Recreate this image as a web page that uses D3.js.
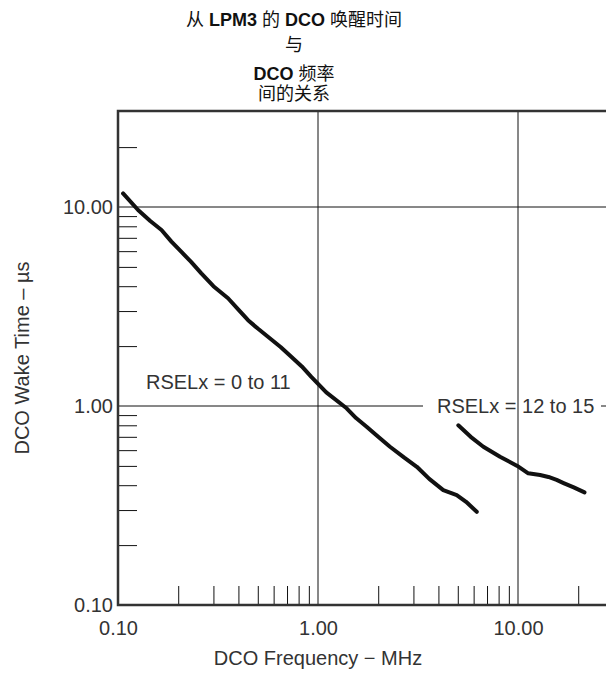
<!DOCTYPE html>
<html>
<head>
<meta charset="utf-8">
<script src="https://cdn.jsdelivr.net/npm/d3@7"></script>
<style>
  body { margin: 0; background: #fff; }
  svg { display: block; font-family: "Liberation Sans", Arial, "Noto Sans CJK SC", sans-serif; }
  .title { font-size: 18px; fill: #111; }
  .lbl { font-size: 20px; fill: #333; }
</style>
</head>
<body>
<div id="chart"></div>
<script>
// DCO wake time vs DCO frequency (log-log)

// RSELx = 0 to 11
var freqLow = [0.106, 0.126, 0.145, 0.165, 0.185, 0.207, 0.232, 0.261, 0.30, 0.355, 0.40, 0.447, 0.50, 0.562, 0.65, 0.735, 0.83, 0.926, 1.10, 1.39, 1.55, 1.75, 2.0, 2.29, 2.7, 3.12, 3.6, 4.23, 4.94, 5.5, 6.22];
var wakeLow = [11.7, 9.66, 8.5, 7.66, 6.7, 5.96, 5.3, 4.64, 4.0, 3.48, 3.05, 2.70, 2.45, 2.23, 1.98, 1.77, 1.58, 1.40, 1.17, 0.974, 0.87, 0.787, 0.70, 0.624, 0.55, 0.495, 0.43, 0.378, 0.357, 0.33, 0.294];

// RSELx = 12 to 15
var freqHigh = [5.03, 5.8, 6.71, 8.13, 9.92, 11.25, 12.9, 14.2, 15.6, 16.9, 19.0, 21.5];
var wakeHigh = [0.80, 0.70, 0.624, 0.556, 0.50, 0.459, 0.45, 0.44, 0.425, 0.41, 0.39, 0.368];

var majorTicks = [0.1, 1, 10];
var minorTicks = [0.2, 0.3, 0.4, 0.5, 0.6, 0.7, 0.8, 0.9, 2, 3, 4, 5, 6, 7, 8, 9, 20];

var seriesLabels = ["RSELx = 0 to 11", "RSELx = 12 to 15"];

var W = 606, H = 673;
var plotLeft = 118, plotBottom = 605, plotTop = 111;

var svg = d3.select("#chart").append("svg")
  .attr("width", W)
  .attr("height", H);

// scales - one decade is ~200px on x, ~199px on y
var x = d3.scaleLog().domain([0.1, 10]).range([plotLeft, 518]);
var y = d3.scaleLog().domain([0.1, 10]).range([plotBottom, 207]);
var plotRight = x(100);

// grid lines at the majors (inside)
svg.selectAll(".hgrid")
  .data(majorTicks.filter(function(d) { return d > 0.1; }))
  .enter().append("line")
  .attr("x1", plotLeft).attr("x2", plotRight)
  .attr("y1", function(d) { return y(d); })
  .attr("y2", function(d) { return y(d); })
  .attr("stroke", "#111").attr("stroke-width", 1);

// white box that breaks the 1.00 line under the second label
svg.append("rect")
  .attr("x", 423).attr("y", y(1) - 10)
  .attr("width", 178).attr("height", 20)
  .attr("fill", "#fff");

svg.selectAll(".vgrid")
  .data(majorTicks.filter(function(d) { return d > 0.1; }))
  .enter().append("line")
  .attr("y1", plotTop).attr("y2", plotBottom)
  .attr("x1", function(d) { return x(d); })
  .attr("x2", function(d) { return x(d); })
  .attr("stroke", "#111").attr("stroke-width", 1);

// minor ticks, pointing inward
var yMinor = d3.axisLeft(y).tickValues(minorTicks).tickSize(-19).tickFormat("");
svg.append("g")
  .attr("transform", "translate(" + plotLeft + ",0)")
  .call(yMinor)
  .call(function(g) { g.select(".domain").remove(); })
  .selectAll("line").attr("stroke", "#111");

var xMinor = d3.axisBottom(x).tickValues(minorTicks).tickSize(-19).tickFormat("");
svg.append("g")
  .attr("transform", "translate(0," + plotBottom + ")")
  .call(xMinor)
  .call(function(g) { g.select(".domain").remove(); })
  .selectAll("line").attr("stroke", "#111");

// major labels
var fmt = d3.format(".2f");
svg.append("g")
  .attr("transform", "translate(" + plotLeft + ",0)")
  .call(d3.axisLeft(y).tickValues(majorTicks).tickSize(0).tickPadding(5).tickFormat(fmt))
  .call(function(g) {
    g.select(".domain").remove();
    g.selectAll("text").attr("class", "lbl").attr("font-size", null).attr("font-family", null);
  });

svg.append("g")
  .attr("transform", "translate(0," + plotBottom + ")")
  .call(d3.axisBottom(x).tickValues(majorTicks).tickSize(0).tickPadding(16).tickFormat(fmt))
  .call(function(g) {
    g.select(".domain").remove();
    g.selectAll("text").attr("class", "lbl").attr("font-size", null).attr("font-family", null);
  });

// frame (right side runs off the page)
svg.append("path")
  .attr("d", "M" + plotRight + "," + plotTop + "H" + plotLeft + "V" + plotBottom + "H" + plotRight)
  .attr("fill", "none")
  .attr("stroke", "#333")
  .attr("stroke-width", 2.5);

// curves
var line = d3.line()
  .x(function(d) { return x(d[0]); })
  .y(function(d) { return y(d[1]); });

[[freqLow, wakeLow], [freqHigh, wakeHigh]].forEach(function(s) {
  svg.append("path")
    .datum(d3.zip(s[0], s[1]))
    .attr("d", line)
    .attr("fill", "none")
    .attr("stroke", "#111")
    .attr("stroke-width", 4)
    .attr("stroke-linecap", "round")
    .attr("stroke-linejoin", "round");
});

// series labels
svg.append("text").attr("class", "lbl")
  .attr("x", 146).attr("y", 389)
  .text(seriesLabels[0]);
svg.append("text").attr("class", "lbl")
  .attr("x", 437).attr("y", y(1) + 7)
  .text(seriesLabels[1]);

// axis titles
svg.append("text").attr("class", "lbl")
  .attr("x", 318).attr("y", 665)
  .attr("text-anchor", "middle")
  .text("DCO Frequency \u2212 MHz");

svg.append("text").attr("class", "lbl")
  .attr("transform", "translate(29,358) rotate(-90)")
  .attr("text-anchor", "middle")
  .text("DCO Wake Time \u2013 \u00b5s");

// title
var tx = 294;
var t1 = svg.append("text").attr("class", "title").attr("x", tx).attr("y", 26).attr("text-anchor", "middle");
t1.append("tspan").text("从 ");
t1.append("tspan").attr("font-weight", "bold").text("LPM3");
t1.append("tspan").text(" 的 ");
t1.append("tspan").attr("font-weight", "bold").text("DCO");
t1.append("tspan").text(" 唤醒时间");

svg.append("text").attr("class", "title").attr("x", tx).attr("y", 51).attr("text-anchor", "middle").text("与");

var t3 = svg.append("text").attr("class", "title").attr("x", tx).attr("y", 79.5).attr("text-anchor", "middle");
t3.append("tspan").attr("font-weight", "bold").text("DCO");
t3.append("tspan").text(" 频率");

svg.append("text").attr("class", "title").attr("x", tx).attr("y", 99.5).attr("text-anchor", "middle").text("间的关系");
</script>
</body>
</html>
